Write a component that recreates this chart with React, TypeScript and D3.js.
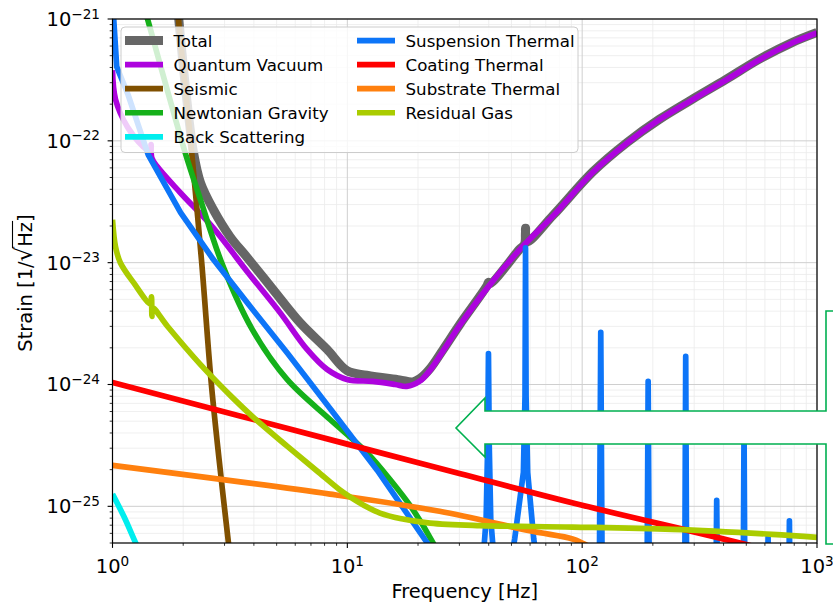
import React, { useEffect, useRef } from 'react';
import * as d3 from 'd3';

const W = 833;
const H = 604;
// axes box in pixels
const plot = { left: 112.5, right: 817, top: 19, bottom: 543 };

const freqRange = [1, 1000];
const strainRange = [5e-26, 1e-21];
const xTickExps = [0, 1, 2, 3];
const yTickExps = [-21, -22, -23, -24, -25];

// noise curves: [frequency Hz, strain 1/sqrt(Hz)]
const total = [
  [1.85, 2.0e-21], [1.91, 1.05e-21], [2.05, 2.63e-22], [2.21, 8.13e-23], [2.37, 4.53e-23],
  [2.69, 2.72e-23], [3.17, 1.63e-23], [3.75, 1.1e-23], [4.83, 6.01e-24], [6.29, 3.22e-24],
  [8.2, 1.94e-24], [9.97, 1.3e-24], [12.1, 1.19e-24], [16.7, 1.09e-24], [19.0, 1.05e-24],
  [20.4, 1.12e-24], [22.5, 1.35e-24], [25.56, 1.93e-24], [30.2, 3.13e-24], [39.4, 6.5e-24],
  [39.9, 6.9e-24], [40.6, 6.75e-24], [54.2, 1.29e-23], [56.8, 1.41e-23], [57.4, 1.92e-23],
  [58.0, 1.48e-23], [75.2, 2.45e-23], [111.3, 5.6e-23], [155.3, 9.7e-23], [213, 1.5e-22],
  [294, 2.19e-22], [410, 3.19e-22], [566, 4.66e-22], [783, 6.41e-22], [1000, 7.75e-22],
];

const quantumVacuum = [
  [1.0, 3.8e-22], [1.03, 2.19e-22], [1.158, 1.3e-22], [1.354, 8.93e-23], [1.45, 8.13e-23],
  [1.46, 9.33e-23], [1.47, 7.24e-23], [1.553, 6.12e-23], [1.945, 3.75e-23], [2.686, 1.93e-23],
  [3.75, 8.43e-24], [5.17, 3.89e-24], [6.74, 1.94e-24], [8.2, 1.33e-24], [9.97, 1.1e-24],
  [12.85, 1.06e-24], [15.96, 1.0e-24], [17.9, 9.64e-25], [20.4, 1.07e-24], [22.5, 1.31e-24],
  [25.56, 1.88e-24], [30.2, 3.08e-24], [39.4, 6.18e-24], [54.2, 1.28e-23], [75.2, 2.42e-23],
  [111.3, 5.55e-23], [155.3, 9.6e-23], [213, 1.49e-22], [294, 2.17e-22], [410, 3.16e-22],
  [566, 4.61e-22], [783, 6.35e-22], [1000, 7.67e-22],
];

const seismic = [
  [1.85, 2.5e-21], [1.91, 1.0e-21], [2.175, 7.94e-23], [2.396, 1.02e-23], [2.625, 1.1e-24],
  [2.842, 2.45e-25], [3.113, 5.13e-26], [3.25, 2.5e-26],
];

const newtonian = [
  [1.3, 1.75e-21], [1.41, 1.0e-21], [2.04, 7.98e-23], [2.37, 3.28e-23], [2.96, 9.27e-24],
  [3.94, 2.82e-24], [5.54, 1.1e-24], [8.44, 5.16e-25], [12.1, 2.77e-25], [15.2, 1.66e-25],
  [19.0, 9.44e-26], [23.1, 5.07e-26], [26, 3.16e-26],
];

const backScattering = [
  [1.0, 1.26e-25], [1.12, 8.2e-26], [1.255, 5.0e-26], [1.35, 3.7e-26],
];

const suspension = [
  [1.0, 1.2e-21], [1.012, 1.0e-21], [1.042, 4.07e-22], [1.164, 2.4e-22], [1.42, 7.67e-23],
  [1.95, 2.57e-23], [2.69, 1.06e-23], [3.75, 4.68e-24], [5.54, 1.82e-24], [8.7, 5.89e-25],
  [13.4, 1.98e-25], [21.8, 5.07e-26], [25, 3.2e-26], [30, 1.5e-26],
  // violin / bounce mode peaks
  [36.5, 1.5e-26], [37.8, 3.5e-26], [39.0, 7.9e-26], [39.6, 3.2e-25], [39.9, 1.79e-24],
  [40.2, 3.2e-25], [40.8, 7.9e-26], [42.2, 3.5e-26], [44, 1.5e-26],
  [47, 1.8e-26], [51.6, 5.4e-26], [56.2, 1.9e-25], [57.1, 8.0e-25], [57.4, 1.32e-23],
  [57.7, 8.0e-25], [58.6, 1.9e-25], [62.2, 5.4e-26], [67, 1.8e-26], [70, 1.0e-26],
  [118, 1e-26], [120, 2.68e-24], [122, 1e-26],
  [188.5, 1e-26], [191, 1.06e-24], [193.5, 1e-26],
  [273, 1e-26], [276, 1.7e-24], [279, 1e-26],
  [370, 1e-26], [374, 1.12e-25], [378, 1e-26],
  [484, 1e-26], [489, 4.5e-25], [494, 1e-26],
  [613, 1e-26], [619, 5.6e-26], [625, 1e-26],
  [756, 1e-26], [763, 7.6e-26], [770, 1e-26],
  [1000, 1e-26],
];

const coating = [
  [1, 1.04e-24], [10, 3.24e-25], [30, 1.86e-25], [100, 1.02e-25], [470, 5.0e-26], [1000, 3.4e-26],
];

const substrate = [
  [1, 2.17e-25], [8.44, 1.26e-25], [24.7, 9.1e-26], [59.7, 6.3e-26], [91, 5.4e-26], [100, 5.0e-26], [150, 3.3e-26],
];

const residualGas = [
  [1.0, 2.25e-23], [1.03, 1.35e-23], [1.08, 1.0e-23], [1.23, 6.85e-24], [1.45, 4.57e-24],
  [1.465, 5.25e-24], [1.472, 3.63e-24], [1.48, 4.27e-24], [1.71, 3.02e-24], [2.36, 1.47e-24],
  [3.26, 7.73e-25], [3.97, 5.4e-25], [5.54, 3.12e-25], [7.43, 1.95e-25], [9.31, 1.36e-25],
  [10.3, 1.19e-25], [12.13, 9.86e-26], [13.77, 8.8e-26], [16.77, 7.94e-26], [22.5, 7.28e-26],
  [36.7, 6.95e-26], [91, 6.76e-26], [242, 6.47e-26], [644, 5.89e-26], [1000, 5.56e-26],
];

const series = [
  { name: 'Total', data: total, color: '#666666', lw: 9, smooth: true },
  { name: 'Quantum Vacuum', data: quantumVacuum, color: '#ad03de', lw: 5.7, smooth: true },
  { name: 'Seismic', data: seismic, color: '#805000', lw: 5.7, smooth: true },
  { name: 'Newtonian Gravity', data: newtonian, color: '#15b01a', lw: 5.7, smooth: true },
  { name: 'Back Scattering', data: backScattering, color: '#00eeee', lw: 5.7, smooth: true },
  { name: 'Suspension Thermal', data: suspension, color: '#0d75f8', lw: 5.7, smooth: false },
  { name: 'Coating Thermal', data: coating, color: '#ff0000', lw: 5.7, smooth: true },
  { name: 'Substrate Thermal', data: substrate, color: '#ff800e', lw: 5.7, smooth: true },
  { name: 'Residual Gas', data: residualGas, color: '#aacc00', lw: 5.7, smooth: true },
];

const FONT = 'DejaVu Sans, sans-serif';

const App = () => {
  const ref = useRef(null);

  useEffect(() => {
    const svg = d3.select(ref.current);
    svg.selectAll('*').remove();

    const x = d3.scaleLog().domain(freqRange).range([plot.left, plot.right]);
    const y = d3.scaleLog().domain(strainRange).range([plot.bottom, plot.top]);

    // minor positions
    const xMinor = [];
    for (let e = 0; e < 3; e++) for (let m = 2; m < 10; m++) xMinor.push(m * 10 ** e);
    const yMinor = [];
    for (let e = -26; e < -21; e++) for (let m = 2; m < 10; m++) {
      const v = m * 10 ** e;
      if (v >= strainRange[0] * 0.999 && v <= strainRange[1]) yMinor.push(v);
    }

    // grid
    const grid = svg.append('g');
    grid.selectAll('.gxm').data(xMinor).enter().append('line')
      .attr('x1', d => x(d)).attr('x2', d => x(d)).attr('y1', plot.top).attr('y2', plot.bottom)
      .attr('stroke', '#ebebeb').attr('stroke-width', 0.8);
    grid.selectAll('.gym').data(yMinor).enter().append('line')
      .attr('x1', plot.left).attr('x2', plot.right).attr('y1', d => y(d)).attr('y2', d => y(d))
      .attr('stroke', '#ebebeb').attr('stroke-width', 0.8);
    grid.selectAll('.gx').data(xTickExps).enter().append('line')
      .attr('x1', d => x(10 ** d)).attr('x2', d => x(10 ** d)).attr('y1', plot.top).attr('y2', plot.bottom)
      .attr('stroke', '#cfcfcf').attr('stroke-width', 1);
    grid.selectAll('.gy').data(yTickExps).enter().append('line')
      .attr('x1', plot.left).attr('x2', plot.right).attr('y1', d => y(10 ** d)).attr('y2', d => y(10 ** d))
      .attr('stroke', '#cfcfcf').attr('stroke-width', 1);

    // curves
    svg.append('clipPath').attr('id', 'plotclip').append('rect')
      .attr('x', plot.left).attr('y', plot.top)
      .attr('width', plot.right - plot.left).attr('height', plot.bottom - plot.top);
    const curves = svg.append('g').attr('clip-path', 'url(#plotclip)');
    series.forEach(s => {
      const line = d3.line()
        .x(d => x(d[0]))
        .y(d => y(d[1]))
        .curve(s.smooth ? d3.curveCatmullRom.alpha(0.5) : d3.curveLinear);
      curves.append('path')
        .attr('d', line(s.data))
        .attr('fill', 'none')
        .attr('stroke', s.color)
        .attr('stroke-width', s.lw)
        .attr('stroke-linejoin', 'round')
        .attr('stroke-linecap', 'butt');
    });

    // ticks
    const ticks = svg.append('g').attr('stroke', '#000');
    xTickExps.forEach(e => {
      ticks.append('line').attr('x1', x(10 ** e)).attr('x2', x(10 ** e))
        .attr('y1', plot.bottom).attr('y2', plot.bottom + 4.9).attr('stroke-width', 1.1);
    });
    xMinor.forEach(v => {
      ticks.append('line').attr('x1', x(v)).attr('x2', x(v))
        .attr('y1', plot.bottom).attr('y2', plot.bottom + 2.8).attr('stroke-width', 0.8);
    });
    yTickExps.forEach(e => {
      ticks.append('line').attr('x1', plot.left - 4.9).attr('x2', plot.left)
        .attr('y1', y(10 ** e)).attr('y2', y(10 ** e)).attr('stroke-width', 1.1);
    });
    yMinor.forEach(v => {
      ticks.append('line').attr('x1', plot.left - 2.8).attr('x2', plot.left)
        .attr('y1', y(v)).attr('y2', y(v)).attr('stroke-width', 0.8);
    });

    // spines
    svg.append('rect')
      .attr('x', plot.left).attr('y', plot.top)
      .attr('width', plot.right - plot.left).attr('height', plot.bottom - plot.top)
      .attr('fill', 'none').attr('stroke', '#000').attr('stroke-width', 1.2);

    // tick labels
    const sup = e => (e < 0 ? '\u2212' + -e : String(e));
    yTickExps.forEach(e => {
      const t = svg.append('text')
        .attr('x', 100).attr('y', y(10 ** e) + 7)
        .attr('text-anchor', 'end').attr('font-family', FONT).attr('font-size', 19.44);
      t.append('tspan').text('10');
      t.append('tspan').attr('dy', -7.5).attr('font-size', 13.6).text(sup(e));
    });
    xTickExps.forEach(e => {
      const t = svg.append('text')
        .attr('x', x(10 ** e)).attr('y', 573)
        .attr('text-anchor', 'middle').attr('font-family', FONT).attr('font-size', 19.44);
      t.append('tspan').text('10');
      t.append('tspan').attr('dy', -7.5).attr('font-size', 13.6).text(sup(e));
    });

    // axis labels
    svg.append('text')
      .attr('x', (plot.left + plot.right) / 2).attr('y', 598)
      .attr('text-anchor', 'middle').attr('font-family', FONT).attr('font-size', 19.44)
      .text('Frequency [Hz]');

    const yl = svg.append('g')
      .attr('transform', `translate(32,${(plot.top + plot.bottom) / 2 + 2}) rotate(-90)`);
    const yt = yl.append('text')
      .attr('text-anchor', 'middle').attr('font-family', FONT).attr('font-size', 19.44);
    yt.append('tspan').text('Strain [1/');
    yt.append('tspan').attr('font-size', 23).text('\u221A');
    yt.append('tspan').text('Hz]');
    const tn = yt.node();
    if (tn && tn.getNumberOfChars() >= 14) {
      const x0 = tn.getEndPositionOfChar(10).x - 1.5;
      const x1 = tn.getEndPositionOfChar(12).x + 1;
      yl.append('line').attr('x1', x0).attr('x2', x1).attr('y1', -19.5).attr('y2', -19.5)
        .attr('stroke', '#000').attr('stroke-width', 1.1);
    }

    // legend
    const lg = svg.append('g');
    lg.append('rect')
      .attr('x', 121).attr('y', 27).attr('width', 457).attr('height', 125.5).attr('rx', 4)
      .attr('fill', '#fff').attr('fill-opacity', 0.8)
      .attr('stroke', '#cccccc').attr('stroke-width', 1);
    series.forEach((s, i) => {
      const col = i < 5 ? 0 : 1;
      const row = i < 5 ? i : i - 5;
      const hx = col === 0 ? 125 : 357;
      const ly = 40.6 + row * 24.05;
      lg.append('line').attr('x1', hx).attr('x2', hx + 38).attr('y1', ly).attr('y2', ly)
        .attr('stroke', s.color).attr('stroke-width', s.lw);
      lg.append('text').attr('x', hx + 48.5).attr('y', ly + 6)
        .attr('font-family', FONT).attr('font-size', 16.67).attr('fill', '#000')
        .text(s.name);
    });

    // callout arrow on the right
    const arrow = [
      [845, 311], [826, 311], [826, 411], [485, 411], [485, 398], [456, 428],
      [485, 457], [485, 444], [826, 444], [826, 544], [845, 544],
    ];
    svg.append('path')
      .attr('d', 'M' + arrow.map(p => p.join(',')).join('L'))
      .attr('fill', '#fff').attr('stroke', '#00b050').attr('stroke-width', 1.6);
  });

  return (
    <div>
      <svg ref={ref} width={W} height={H} style={{ position: 'absolute', left: 0, top: 0, background: '#fff' }} />
    </div>
  );
};

export default App;
